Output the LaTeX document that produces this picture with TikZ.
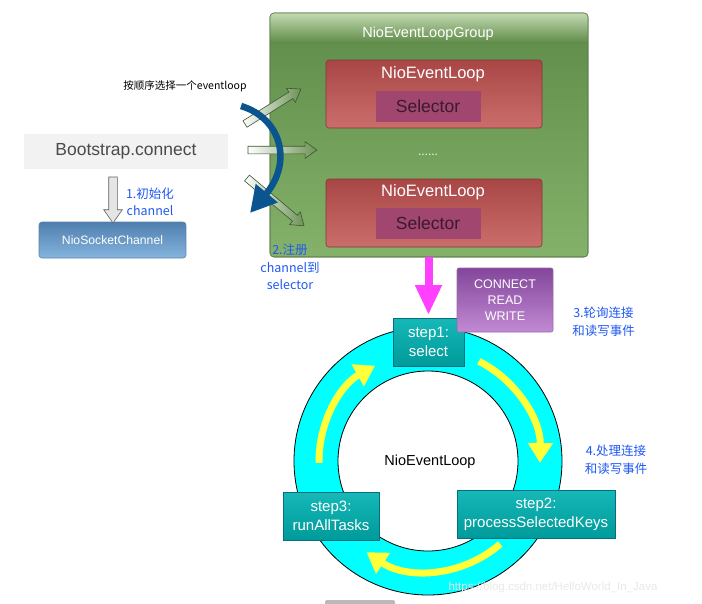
\documentclass[tikz,border=0pt]{standalone}
\usepackage{fontspec}
\setmainfont{Liberation Sans}
\newfontfamily\cjk{Noto Sans CJK SC}
\usetikzlibrary{arrows.meta,shapes.arrows,calc}
\definecolor{grpTop}{HTML}{5E8B48}
\definecolor{grpBot}{HTML}{84B26A}
\definecolor{grpHi}{HTML}{C3DAB2}
\definecolor{grpLine}{HTML}{5E7D4C}
\definecolor{redTop}{HTML}{A84646}
\definecolor{redBot}{HTML}{CB6E6B}
\definecolor{redLine}{HTML}{833838}
\definecolor{selFill}{HTML}{A0466F}
\definecolor{selText}{HTML}{3A1A2C}
\definecolor{bootFill}{HTML}{F2F2F2}
\definecolor{bootText}{HTML}{4A4A4A}
\definecolor{nscTop}{HTML}{4F7FAE}
\definecolor{nscBot}{HTML}{86B4DF}
\definecolor{nscLine}{HTML}{5A82AA}
\definecolor{annBlue}{HTML}{1F58F2}
\definecolor{curveBlue}{HTML}{0A5590}
\definecolor{magArrow}{HTML}{FF40FF}
\definecolor{conTop}{HTML}{83469A}
\definecolor{conBot}{HTML}{C28AD4}
\definecolor{conLine}{HTML}{986AA8}
\definecolor{ringCyan}{HTML}{00FFFF}
\definecolor{stepTop}{HTML}{16B8B8}
\definecolor{stepBot}{HTML}{009A9A}
\definecolor{stepLine}{HTML}{066E80}
\definecolor{yel}{HTML}{FFFF3A}
\definecolor{hollowEnd}{HTML}{6A9253}
\definecolor{hollowLine}{HTML}{3E5532}
\begin{document}
\begin{tikzpicture}[x=1pt,y=-1pt,
  box/.style={inner sep=0pt, outer sep=0pt},
  redbox/.style={box, rounded corners=3pt, draw=redLine, line width=0.6pt,
    top color=redTop, bottom color=redBot, minimum width=216pt, minimum height=68pt},
  selbox/.style={box, fill=selFill, minimum width=105pt, minimum height=31pt,
    font=\fontsize{17.5}{20}\selectfont, text=selText},
  stepbox/.style={box, draw=stepLine, line width=0.8pt, top color=stepTop, bottom color=stepBot,
    minimum height=48pt, text=white, align=center, font=\fontsize{15}{19}\selectfont},
  ann/.style={text=annBlue, align=center, font=\cjk\fontsize{12.5}{17.5}\selectfont},
  hollow/.style={single arrow, inner xsep=0pt, inner ysep=3.5pt, outer sep=0pt,
    single arrow head extend=4.5pt, single arrow tip angle=70, anchor=tail,
    draw=hollowLine, line width=0.6pt, left color=white, right color=hollowEnd},
  yarrow/.style={draw=yel, line width=7pt, -{Triangle[length=20pt,width=24pt]}},
]
\useasboundingbox (0,0) rectangle (702,603);

% ---------- NioEventLoopGroup ----------
\node[box, rounded corners=4pt, draw=grpLine, line width=0.6pt, top color=grpTop, bottom color=grpBot,
  minimum width=318pt, minimum height=244pt] (grp) at (429,135) {};
\begin{scope}
  \clip[rounded corners=4pt] (grp.north west) rectangle (grp.south east);
  \shade[top color=grpHi, bottom color=grpTop] (grp.north west) rectangle ($(grp.north east)+(0,30)$);
\end{scope}
\draw[grpLine, line width=0.6pt, rounded corners=4pt] (grp.north west) rectangle (grp.south east);
\node[text=white, font=\fontsize{14.5}{17}\selectfont] (grptitle) at (428,34) {NioEventLoopGroup};

\node[redbox] (el1) at (434,94) {};
\node[text=white, font=\fontsize{16.5}{19}\selectfont] (el1t) at (433,74) {NioEventLoop};
\node[selbox] (sel1) at (428,106.5) {Selector};

\node[text=white, font=\fontsize{12}{14}\selectfont] (dots) at (428,155) {......};

\node[redbox] (el2) at (434,213) {};
\node[text=white, font=\fontsize{16.5}{19}\selectfont] (el2t) at (433,192) {NioEventLoop};
\node[selbox] (sel2) at (428,223.5) {Selector};

% ---------- left side ----------
\node[box, fill=bootFill, minimum width=204pt, minimum height=35pt, text=bootText,
  font=\fontsize{17.5}{20}\selectfont] (boot) at (126,151.5) {Bootstrap.connect};
\node[box, rounded corners=3pt, draw=nscLine, line width=0.6pt, top color=nscTop, bottom color=nscBot,
  minimum width=147pt, minimum height=36pt, text=white, font=\fontsize{12.2}{14}\selectfont]
  (nsc) at (112.5,240) {NioSocketChannel};

\coordinate (dtail) at (113,177);
\node[single arrow, inner xsep=0pt, inner ysep=4pt, outer sep=0pt, single arrow head extend=5pt,
  single arrow tip angle=70, anchor=tail, draw=gray!75!black, line width=0.6pt, fill=gray!20,
  minimum height=46pt, rotate=-90] (down) at (dtail) {};

\node[ann] (a1) at (150,202) {1.初始化\\channel};
\node[font=\cjk\fontsize{10.5}{12}\selectfont] (hint) at (185,86) {按顺序选择一个eventloop};

% hollow arrows
\coordinate (h1) at (245,124);
\coordinate (h2) at (248,150);
\coordinate (h3) at (247,178);
\node[hollow, minimum height=66pt, rotate=32] (ha1) at (h1) {};
\node[hollow, minimum height=69pt, rotate=0] (ha2) at (h2) {};
\node[hollow, minimum height=74.5pt, rotate=-40] (ha3) at (h3) {};

% blue curved arrow
\coordinate (cs) at (241,106);
\coordinate (ce) at (250,213);
\draw[curveBlue, line width=6.5pt, -{Triangle[length=26pt,width=27pt]}]
  (cs) .. controls (281,118) and (293,162) .. (ce);

\node[ann] (a2) at (290,267) {2.注册\\channel到\\selector};

% ---------- loop ----------
\coordinate (C) at (428,461);
\fill[ringCyan, even odd rule] (C) circle[radius=134] (C) circle[radius=90];
\draw[black, line width=0.8pt] (C) circle[radius=134];
\draw[black, line width=0.8pt] (C) circle[radius=90];
\node[font=\fontsize{14.5}{17}\selectfont] (loopname) at (430,462) {NioEventLoop};

\draw[yarrow] ($(C)+(-63:112)$) arc[start angle=-63, end angle=1, radius=112];
\draw[yarrow] ($(C)+(49:110)$) arc[start angle=49, end angle=124, radius=110];
\draw[yarrow] ($(C)+(179:109)$) arc[start angle=179, end angle=241, radius=109];

\node[stepbox, minimum width=71pt] (s1) at (428.5,342) {step1:\\select};
\node[stepbox, minimum width=158pt] (s2) at (536,514) {step2:\\processSelectedKeys};
\node[stepbox, minimum width=96pt] (s3) at (331,516) {step3:\\runAllTasks};

\draw[magArrow, line width=8pt, -{Triangle[length=30pt,width=25pt]}, shorten >=3pt]
  (grp.south -| s1.north) -- (s1.north);

\node[box, rounded corners=2pt, draw=conLine, line width=0.6pt, top color=conTop, bottom color=conBot,
  minimum width=96pt, minimum height=64pt, text=white, align=center,
  font=\fontsize{12.5}{16}\selectfont] (con) at (505,300) {CONNECT\\READ\\WRITE};

\node[ann, font=\cjk\fontsize{12.5}{18}\selectfont] (a3) at (603.5,322) {3.轮询连接\\和读写事件};
\node[ann, font=\cjk\fontsize{12.5}{18}\selectfont] (a4) at (616,460) {4.处理连接\\和读写事件};

\node[text=white!82!gray, font=\fontsize{11.5}{13}\selectfont] (wm) at (553,588)
  {https://blog.csdn.net/HelloWorld\_In\_Java};
\fill[gray!55, rounded corners=2pt] (325,600) rectangle (395,607);
\end{tikzpicture}
\end{document}
